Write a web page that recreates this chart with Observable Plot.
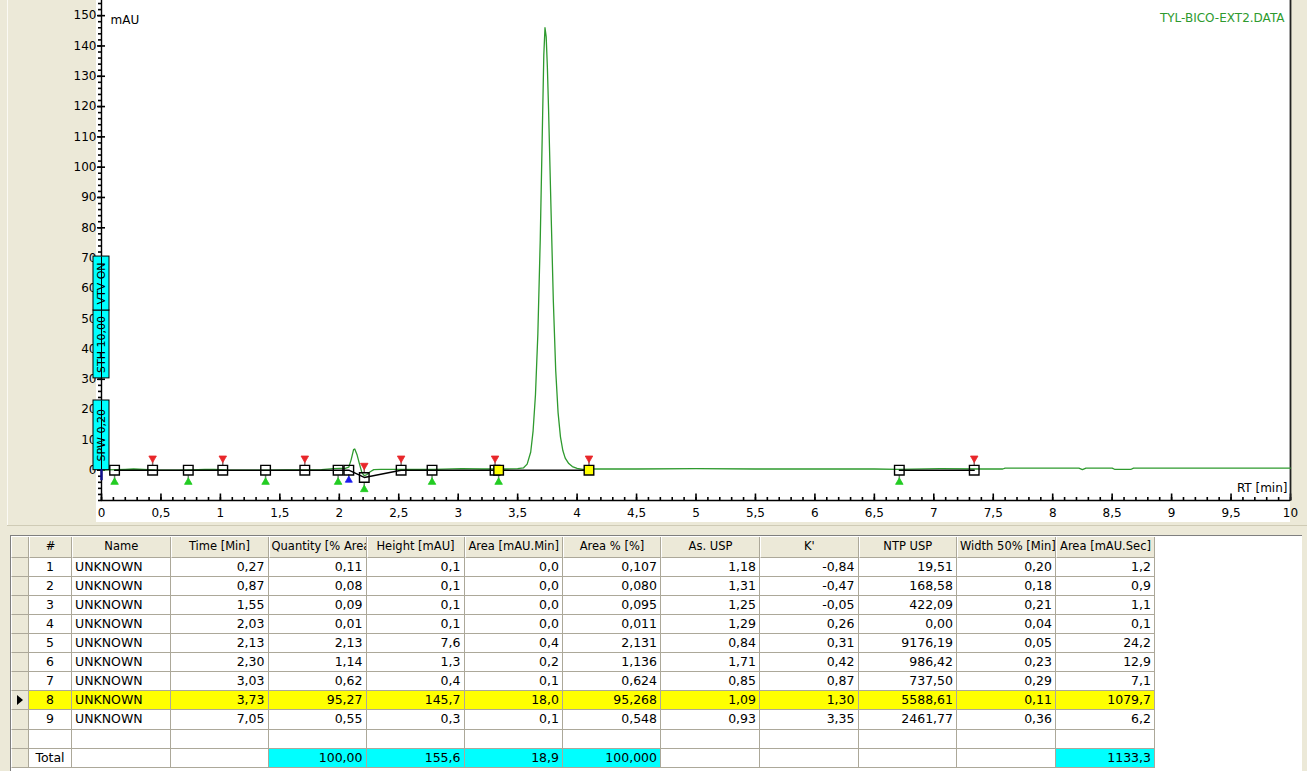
<!DOCTYPE html>
<html><head><meta charset="utf-8">
<script src="https://cdn.jsdelivr.net/npm/d3@7"></script>
<script src="https://cdn.jsdelivr.net/npm/@observablehq/plot@0.6"></script>
<style>
html,body{margin:0;padding:0;background:#ECE9D8;width:1307px;height:771px;overflow:hidden;font-family:"DejaVu Sans",sans-serif;}
#wrap{position:relative;width:1307px;height:771px;}
#panel{position:absolute;left:7px;top:-2px;width:1300px;height:528px;border-left:1px solid #fbfaf4;border-bottom:1px solid #fbfaf4;box-sizing:border-box;}
#sep{position:absolute;left:7px;top:525px;width:1300px;height:1px;background:#cfcbb6;}
#white{position:absolute;left:96px;top:0;width:1194px;height:522px;background:#fff;}
#chart{position:absolute;left:0;top:0;}
#grid{position:absolute;left:10px;top:535px;width:1292px;height:236px;background:#fff;border-left:1px solid #7f7f7f;border-top:1px solid #7f7f7f;box-sizing:border-box;}
.cell{position:absolute;box-sizing:border-box;border-right:1px solid #aca899;border-bottom:1px solid #aca899;font-size:12.5px;white-space:nowrap;overflow:hidden;padding:0 3px;color:#000;}
.hdr{background:#ECE9D8;border-left:1px solid #fff;font-size:11.5px;}
</style></head>
<body><div id="wrap"><div id="panel"></div><div id="sep"></div><div id="white"></div><div id="chart"></div><div id="grid"></div></div>
<script>
// ---------- chromatogram data ----------
const traceT = [0.00,0.05,0.12,0.20,0.27,0.35,0.45,0.55,0.65,0.75,0.87,0.95,1.05,1.20,1.40,1.55,1.70,1.85,1.95,2.00,2.05,2.08,2.10,2.12,2.13,2.15,2.17,2.19,2.21,2.23,2.26,2.29,2.35,2.45,2.60,2.80,3.03,3.20,3.40,3.50,3.55,3.58,3.61,3.63,3.65,3.67,3.69,3.71,3.72,3.73,3.74,3.75,3.76,3.78,3.80,3.82,3.84,3.86,3.88,3.90,3.93,3.96,4.00,4.05,4.15,4.50,5.00,5.50,6.00,6.50,6.70,7.05,7.40,7.58,7.60,8.00,8.22,8.25,8.28,8.50,8.52,8.66,8.68,9.00,9.50,10.00];
const traceY = [0.0,0.1,0.2,0.3,0.4,0.3,0.1,0.0,0.0,0.1,0.3,0.3,0.1,0.0,0.0,0.1,0.1,0.2,0.5,0.6,0.6,1.0,3.5,6.8,7.0,5.0,2.0,-0.8,-1.8,-1.5,-0.5,0.2,0.3,0.3,0.3,0.3,0.5,0.4,0.4,0.5,0.8,2.0,6.0,13,25,45,76,117,137,146,143,133,119,87,56,33,19,11,6.5,4.0,2.2,1.2,0.6,0.3,0.4,0.4,0.5,0.4,0.4,0.4,0.3,0.5,0.4,0.4,0.7,0.7,0.7,0.2,0.7,0.7,0.3,0.3,0.7,0.7,0.7,0.7];

// integration baseline (segments)
const baseT = [0.11,2.08,2.21,2.52,4.10,6.71,7.34];
const baseY = [0,0,-2.4,0,0,0,0];
const baseSeg = [1,1,1,1,1,2,2];

// peak boundaries (squares)
const boundT = [0.11,0.43,0.73,1.02,1.38,1.71,1.99,2.08,2.21,2.52,2.78,3.31,6.71,7.34];
const boundY = [0,0,0,0,0,0,0,0,-2.4,0,0,0,0,0];
const selBoundT = [3.34,4.10];
const selBoundY = [0,0];

// peak end markers (red), start markers (green), valley markers (blue)
const endT = [0.43,1.02,1.71,2.21,2.52,3.31,4.10,7.34];
const endY = [0,0,0,-2.4,0,0,0,0];
const startT = [0.11,0.73,1.38,1.99,2.21,2.78,3.34,6.71];
const startY = [0,0,0,0,-2.4,0,0,0];
const valleyT = [2.08];
const valleyY = [0];
const injectT = [0];
const injectY = [0];

// timed events
const eventLabels = ["SPW 0,20","STH 10,00","VTV ON"];
const eventTime = [0,0,0];
const eventLow = [0,30.3,52.7];
const eventHigh = [23,52.7,70.5];

// axis ticks
const xTickValues = [0,0.5,1,1.5,2,2.5,3,3.5,4,4.5,5,5.5,6,6.5,7,7.5,8,8.5,9,9.5,10];
const xTickLabels = ["0","0,5","1","1,5","2","2,5","3","3,5","4","4,5","5","5,5","6","6,5","7","7,5","8","8,5","9","9,5","10"];
const yTickValues = [0,10,20,30,40,50,60,70,80,90,100,110,120,130,140,150];
const yTickLabels = ["0","10","20","30","40","50","60","70","80","90","100","110","120","130","140","150"];

const fileName = "TYL-BICO-EXT2.DATA";
const yUnit = "mAU";
const xUnit = "RT [min]";

// ---------- table data ----------
const colHeaders = ["#","Name","Time [Min]","Quantity [% Area]","Height [mAU]","Area [mAU.Min]","Area % [%]","As. USP","K'","NTP USP","Width 50% [Min]","Area [mAU.Sec]"];
const peakNo = ["1","2","3","4","5","6","7","8","9"];
const peakName = ["UNKNOWN","UNKNOWN","UNKNOWN","UNKNOWN","UNKNOWN","UNKNOWN","UNKNOWN","UNKNOWN","UNKNOWN"];
const timeMin = ["0,27","0,87","1,55","2,03","2,13","2,30","3,03","3,73","7,05"];
const quantity = ["0,11","0,08","0,09","0,01","2,13","1,14","0,62","95,27","0,55"];
const heightMAU = ["0,1","0,1","0,1","0,1","7,6","1,3","0,4","145,7","0,3"];
const areaMin = ["0,0","0,0","0,0","0,0","0,4","0,2","0,1","18,0","0,1"];
const areaPct = ["0,107","0,080","0,095","0,011","2,131","1,136","0,624","95,268","0,548"];
const asUSP = ["1,18","1,31","1,25","1,29","0,84","1,71","0,85","1,09","0,93"];
const kPrime = ["-0,84","-0,47","-0,05","0,26","0,31","0,42","0,87","1,30","3,35"];
const ntpUSP = ["19,51","168,58","422,09","0,00","9176,19","986,42","737,50","5588,61","2461,77"];
const width50 = ["0,20","0,18","0,21","0,04","0,05","0,23","0,29","0,11","0,36"];
const areaSec = ["1,2","0,9","1,1","0,1","24,2","12,9","7,1","1079,7","6,2"];
const totalRow = ["Total","","","100,00","155,6","18,9","100,000","","","","","1133,3"];
const selectedPeak = 8;

// ---------- chart ----------
const W = 1307, H = 530, ML = 101, MR = 17, MT = 0, MB = 30;
const xDomain = [0, 10], yDomain = [-10, 155];
const pxX = px => px * (xDomain[1] - xDomain[0]) / (W - ML - MR);
const pxY = px => px * (yDomain[1] - yDomain[0]) / (H - MT - MB);
const xMinor = d3.range(0, 10.001, 0.1).map(d => +d.toFixed(1));
const yMinor = d3.range(-10, 155, 2);
const xLab = new Map(xTickValues.map((v,i)=>[v, xTickLabels[i]]));
const yLab = new Map(yTickValues.map((v,i)=>[v, yTickLabels[i]]));
const yB = yDomain[0];

const stem = (T, Y, from, to, stroke, sw) => Plot.link(T, {
  x1: T, x2: T,
  y1: Y.map(v => v + pxY(from)), y2: Y.map(v => v + pxY(to)),
  stroke, strokeWidth: sw
});

const chart = Plot.plot({
  width: W, height: H,
  marginLeft: ML, marginRight: MR, marginTop: MT, marginBottom: MB,
  x: {domain: xDomain},
  y: {domain: yDomain},
  style: {background: "transparent", fontFamily: "DejaVu Sans, sans-serif", fontSize: "12px", overflow: "visible", color: "black"},
  marks: [
    Plot.axisX(xTickValues, {tickSize: 0, tickPadding: 8, tickFormat: d => xLab.get(d), label: null, fontSize: 12}),
    Plot.axisY(yTickValues, {tickSize: 0, tickPadding: 5, tickFormat: d => yLab.get(d), label: null, fontSize: 12}),
    // x ticks (pointing up, inside)
    Plot.link(xMinor, {x1: d => d, x2: d => d, y1: d => yB, y2: d => yB + pxY(3.5), stroke: "#000", strokeWidth: 1.6}),
    Plot.link(xTickValues, {x1: d => d, x2: d => d, y1: d => yB, y2: d => yB + pxY(7), stroke: "#000", strokeWidth: 1.6}),
    // y ticks
    Plot.link(yMinor, {y1: d => d, y2: d => d, x1: d => -pxX(3.5), x2: d => 0, stroke: "#000", strokeWidth: 1.6}),
    Plot.link(yTickValues, {y1: d => d, y2: d => d, x1: d => -pxX(4.5), x2: d => pxX(3.5), stroke: "#000", strokeWidth: 1.6}),
    Plot.ruleY([yB], {stroke: "black", strokeWidth: 1.4}),
    Plot.ruleX([xDomain[1]], {stroke: "#222", strokeWidth: 1.8}),
    // trace
    Plot.line(traceT, {x: traceT, y: traceY, stroke: "#2e9a2e", strokeWidth: 1.3}),
    // integration baseline
    Plot.line(baseT, {x: baseT, y: baseY, z: baseSeg, stroke: "black", strokeWidth: 1.4}),
    // y axis line
    Plot.ruleX([0], {stroke: "black", strokeWidth: 1.4}),
    // events
    Plot.rect(eventLabels, {x1: eventTime, x2: eventTime, y1: eventLow, y2: eventHigh, insetLeft: -8, insetRight: -8, fill: "#00FFFF", stroke: "black", strokeWidth: 1}),
    Plot.link(eventLabels, {x1: eventTime, x2: eventTime, y1: eventLow, y2: eventHigh, stroke: "black", strokeWidth: 1}),
    Plot.text(eventLabels, {x: eventTime, y: eventLabels.map((d,i)=>(eventLow[i]+eventHigh[i])/2), rotate: -90, text: d => d, fontSize: 11, fill: "black"}),
    // injection marker
    stem(injectT, injectY, 1, -10, "#10108c", 2.5),
    // end markers (red, above)
    stem(endT, endY, 5, 11, "#8a6a6a", 1.5),
    Plot.dot(endT, {x: endT, y: endY, symbol: "triangle", rotate: 180, r: 2.8, dy: -12, fill: "#e8262a", stroke: "#e8262a", strokeWidth: 0.8}),
    // start markers (green, below)
    stem(startT, startY, -5, -11, "#6a8a6a", 1.5),
    Plot.dot(startT, {x: startT, y: startY, symbol: "triangle", r: 2.8, dy: 12, fill: "#22cc22", stroke: "#22cc22", strokeWidth: 0.8}),
    // valley markers (blue, below)
    stem(valleyT, valleyY, -4, -9, "#6a6a9a", 1.5),
    Plot.dot(valleyT, {x: valleyT, y: valleyY, symbol: "triangle", r: 2.6, dy: 10, fill: "#1a1aee", stroke: "#1a1aee", strokeWidth: 0.8}),
    // boundaries
    Plot.dot(boundT, {x: boundT, y: boundY, symbol: "square", r: 5.4, stroke: "black", fill: "none", strokeWidth: 1.4}),
    Plot.dot(selBoundT, {x: selBoundT, y: selBoundY, symbol: "square", r: 5.4, stroke: "black", fill: "#ffff00", strokeWidth: 1.4}),
    // labels
    Plot.text([fileName], {frameAnchor: "top-right", dx: -6, dy: 13, fill: "#2e9a2e", fontSize: 12}),
    Plot.text([yUnit], {frameAnchor: "top-left", dx: 9, dy: 15, fill: "black", fontSize: 12}),
    Plot.text([xUnit], {frameAnchor: "bottom-right", dx: -3, dy: -8.5, fill: "black", fontSize: 12})
  ]
});
document.getElementById("chart").appendChild(chart);

// ---------- table ----------
const grid = document.getElementById("grid");
const gx = 10, gy = 535;
const colEdges = [29,72,170.5,268.5,366.5,464.5,563,661,760,858.5,957,1056,1155];
const indLeft = 11;
const hdrTop = 537, hdrH = 20.5, rowH = 19.12;
const columns = [peakNo, peakName, timeMin, quantity, heightMAU, areaMin, areaPct, asUSP, kPrime, ntpUSP, width50, areaSec];
const totalCyan = [false,false,false,true,true,true,true,false,false,false,false,true];

function cell(x1, x2, y, h, text, opts={}) {
  const d = document.createElement("div");
  d.className = "cell" + (opts.hdr ? " hdr" : "");
  d.style.left = (x1 - gx - 1) + "px";
  d.style.top = (y - gy - 1) + "px";
  d.style.width = (x2 - x1) + "px";
  d.style.height = h + "px";
  d.style.lineHeight = (h - 1) + "px";
  d.style.textAlign = opts.align || "left";
  if (opts.bg) d.style.background = opts.bg;
  if (opts.pad != null) d.style.padding = "0 " + opts.pad + "px";
  d.textContent = text;
  grid.appendChild(d);
  return d;
}
cell(indLeft, colEdges[0], hdrTop, hdrH, "", {hdr: true});
colHeaders.forEach((h, j) => {
  const long = h.length > 14;
  cell(colEdges[j], colEdges[j+1], hdrTop, hdrH, h, {hdr: true, align: long ? "left" : "center", pad: long ? 2 : 0});
});
const nRows = 11;
for (let r = 0; r < nRows; r++) {
  const y = hdrTop + hdrH + r * rowH;
  const ind = cell(indLeft, colEdges[0], y, rowH, "", {hdr: true});
  const isPeak = r < peakNo.length;
  const isTotal = r === nRows - 1;
  const sel = isPeak && +peakNo[r] === selectedPeak;
  if (sel) {
    const tri = document.createElement("div");
    tri.style.cssText = "position:absolute;left:5px;top:4px;width:0;height:0;border-left:6px solid #000;border-top:5px solid transparent;border-bottom:5px solid transparent;";
    ind.appendChild(tri);
  }
  columns.forEach((col, j) => {
    let text = "", align = j === 0 ? "center" : (j === 1 ? "left" : "right"), bg = null;
    if (isPeak) { text = col[r]; if (sel) bg = "#ffff00"; }
    else if (isTotal) { text = totalRow[j]; if (totalCyan[j]) bg = "#00ffff"; }
    cell(colEdges[j], colEdges[j+1], y, rowH, text, {align, bg});
  });
}
</script></body></html>
